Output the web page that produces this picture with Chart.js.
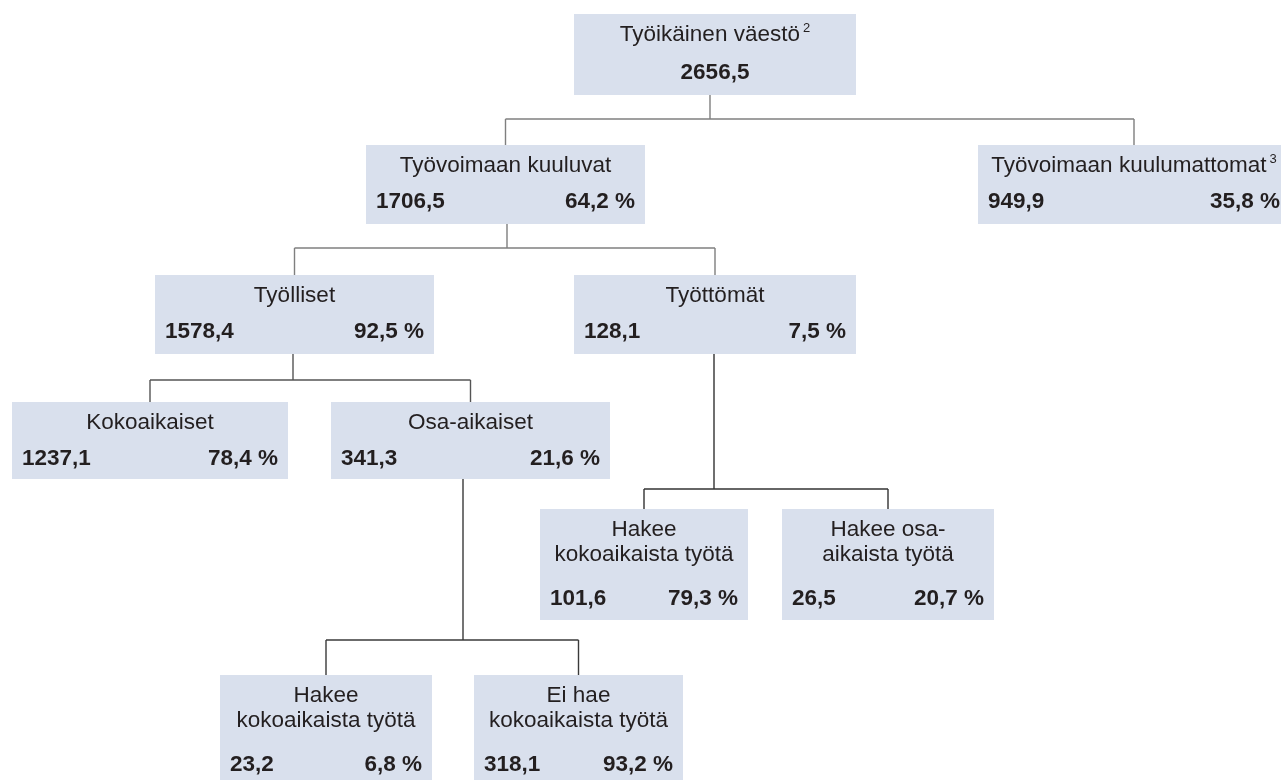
<!DOCTYPE html>
<html lang="fi">
<head>
<meta charset="UTF-8">
<title>Työikäinen väestö</title>
<script src="https://cdnjs.cloudflare.com/ajax/libs/Chart.js/4.4.1/chart.umd.min.js"></script>
<style>
  html, body { margin: 0; padding: 0; background: #fff; }
  #wrap { width: 1281px; height: 780px; position: relative; }
</style>
</head>
<body>
<div id="wrap"><canvas id="tree"></canvas></div>
<script>
// --- data: the tree (values in thousands, shares of parent in %) ---
const nodeNames = [
  ['Työikäinen väestö'],
  ['Työvoimaan kuuluvat'],
  ['Työvoimaan kuulumattomat'],
  ['Työlliset'],
  ['Työttömät'],
  ['Kokoaikaiset'],
  ['Osa-aikaiset'],
  ['Hakee', 'kokoaikaista työtä'],
  ['Hakee osa-', 'aikaista työtä'],
  ['Hakee', 'kokoaikaista työtä'],
  ['Ei hae', 'kokoaikaista työtä']
];
const nodeNotes  = ['2', '', '3', '', '', '', '', '', '', '', ''];
const nodeValues = [2656.5, 1706.5, 949.9, 1578.4, 128.1, 1237.1, 341.3, 101.6, 26.5, 23.2, 318.1];
const nodeShares = [null, 64.2, 35.8, 92.5, 7.5, 78.4, 21.6, 79.3, 20.7, 6.8, 93.2];
const nodeParent = [-1, 0, 0, 1, 1, 3, 3, 4, 4, 6, 6];

// --- layout, in the units of the 1281 x 780 frame ---
const boxLeft   = [574, 366, 978, 155, 574, 12, 331, 540, 782, 220, 474];
const boxRight  = [856, 645, 1290, 434, 856, 288, 610, 748, 994, 432, 683];
const boxTop    = [14, 145, 145, 275, 275, 402, 402, 509, 509, 675, 675];
const boxBottom = [95, 224, 224, 354, 354, 479, 479, 620, 620, 800, 800];
const stemX     = [710, 507, null, 293, 714, null, 463, null, null, null, null];
const busY      = [119, 248, null, 380, 489, null, 640, null, null, null, null];
const lineColor = ['#7f7f7f', '#7f7f7f', null, '#555555', '#333333', null, '#3a3a3a'];

const boxFill = '#d9e0ed';
const textColor = '#231f20';
const fontFamily = '"Liberation Sans", Arial, Helvetica, sans-serif';
const fontSize = 22.5;

function fmt(v) {
  return v.toFixed(1).replace('.', ',');
}

function centerX(i) {
  return (boxLeft[i] + boxRight[i]) / 2;
}

// connector segments, built from the tree and the layout
const segments = [];
nodeParent.forEach((p, i) => {
  if (p < 0) return;
  segments.push({ pts: [{ x: centerX(i), y: busY[p] }, { x: centerX(i), y: boxTop[i] }], color: lineColor[p] });
});
stemX.forEach((sx, p) => {
  if (sx === null) return;
  const kids = nodeParent.map((q, i) => q === p ? i : -1).filter(i => i >= 0);
  const xs = kids.map(centerX);
  segments.push({ pts: [{ x: sx, y: boxBottom[p] }, { x: sx, y: busY[p] }], color: lineColor[p] });
  segments.push({ pts: [{ x: Math.min(...xs), y: busY[p] }, { x: Math.max(...xs), y: busY[p] }], color: lineColor[p] });
});

const boxesPlugin = {
  id: 'boxes',
  beforeDatasetsDraw(chart) {
    const { ctx, scales: { x, y } } = chart;
    ctx.save();
    ctx.fillStyle = boxFill;
    nodeNames.forEach((n, i) => {
      const x0 = x.getPixelForValue(boxLeft[i]);
      const x1 = x.getPixelForValue(boxRight[i]);
      const y0 = y.getPixelForValue(boxTop[i]);
      const y1 = y.getPixelForValue(boxBottom[i]);
      ctx.fillRect(x0, y0, x1 - x0, y1 - y0);
    });
    ctx.restore();
  },
  afterDatasetsDraw(chart) {
    const { ctx, scales: { x, y } } = chart;
    ctx.save();
    ctx.fillStyle = textColor;
    ctx.textBaseline = 'middle';
    const regular = fontSize + 'px ' + fontFamily;
    const small = '13px ' + fontFamily;
    nodeNames.forEach((lines, i) => {
      const cx = x.getPixelForValue(centerX(i));
      const left = x.getPixelForValue(boxLeft[i] + 10);
      const right = x.getPixelForValue(boxRight[i] - 10);
      const top = boxTop[i];

      // name lines, note as superscript
      lines.forEach((txt, k) => {
        const ly = y.getPixelForValue(top + 21 + k * 25);
        const note = k === lines.length - 1 ? nodeNotes[i] : '';
        ctx.font = regular;
        const w = ctx.measureText(txt).width;
        ctx.font = small;
        const nw = note ? ctx.measureText(note).width + 3 : 0;
        const sx = cx - (w + nw) / 2;
        ctx.font = regular;
        ctx.textAlign = 'left';
        ctx.fillText(txt, sx, ly);
        if (note) {
          ctx.font = small;
          ctx.fillText(note, sx + w + 3, ly - 7);
        }
      });

      // value and share
      const vy = y.getPixelForValue(top + (lines.length > 1 ? 90 : (i === 0 ? 59 : 57)));
      ctx.font = 'bold ' + regular;
      if (nodeShares[i] === null) {
        ctx.textAlign = 'center';
        ctx.fillText(fmt(nodeValues[i]), cx, vy);
      } else {
        ctx.textAlign = 'left';
        ctx.fillText(fmt(nodeValues[i]), left, vy);
        ctx.textAlign = 'right';
        ctx.fillText(fmt(nodeShares[i]) + ' %', right, vy);
      }
    });
    ctx.restore();
  }
};

new Chart(document.getElementById('tree'), {
  type: 'scatter',
  data: {
    datasets: segments.map(s => ({
      data: s.pts,
      showLine: true,
      borderColor: s.color,
      borderWidth: 1.4,
      pointRadius: 0,
      pointHoverRadius: 0,
      clip: false
    }))
  },
  options: {
    responsive: true,
    maintainAspectRatio: false,
    animation: false,
    layout: { padding: 0 },
    plugins: { legend: { display: false }, tooltip: { enabled: false } },
    events: [],
    scales: {
      x: { type: 'linear', min: 0, max: 1281, display: false },
      y: { type: 'linear', min: 0, max: 780, reverse: true, display: false }
    }
  },
  plugins: [boxesPlugin]
});
</script>
</body>
</html>
